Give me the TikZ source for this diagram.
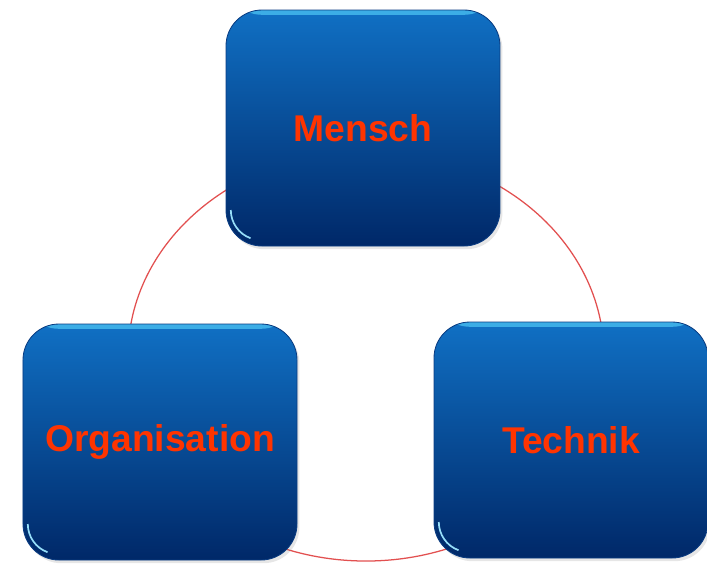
\documentclass[tikz,border=0pt]{standalone}
\usepackage{fontspec}
\setmainfont{Liberation Sans}
\usepackage{xcolor}
\usepackage{tikz}
\usetikzlibrary{shadows}

\definecolor{boxtop}{RGB}{16,112,196}
\definecolor{boxmid}{RGB}{6,80,160}
\definecolor{boxbot}{RGB}{0,40,104}
\definecolor{boxedge}{RGB}{10,60,130}
\definecolor{boxrim}{RGB}{80,200,245}
\definecolor{wordred}{RGB}{255,52,0}
\definecolor{ringred}{RGB}{226,80,80}

\begin{document}
\begin{tikzpicture}[
    x=0.25mm, y=-0.25mm,
    box/.style={rounded corners=9mm, minimum width=68.5mm, minimum height=59mm,
        top color=boxtop, middle color=boxmid, bottom color=boxbot,
        draw=boxedge, line width=0.6pt,
        drop shadow={opacity=0.2, shadow xshift=0.6mm, shadow yshift=-0.8mm},
        path picture={
            \fill[boxrim, opacity=0.7] (path picture bounding box.north west)
                rectangle ([yshift=-1.2mm]path picture bounding box.north east);
            \draw[boxrim!60!white, line width=1.2pt]
                ([shift={(1.2mm,9mm)}]path picture bounding box.south west)
                arc [start angle=180, end angle=250, radius=7.5mm];
        },
        text=wordred, font=\bfseries\fontsize{26.5}{30}\selectfont},
    ring/.style={draw=ringred, line width=0.9pt}
]
\useasboundingbox (0,0) rectangle (707,565);

% ring behind the three boxes
\coordinate (hub) at (366,356);
\draw[ring] (hub) ellipse [x radius=59.5mm, y radius=51.25mm];

\node[box] (mensch) at (363,128) {Mensch};
\node[box] (orga) at (160,442) {Organisation};
\node[box] (technik) at (571,440) {Technik};
\end{tikzpicture}
\end{document}
